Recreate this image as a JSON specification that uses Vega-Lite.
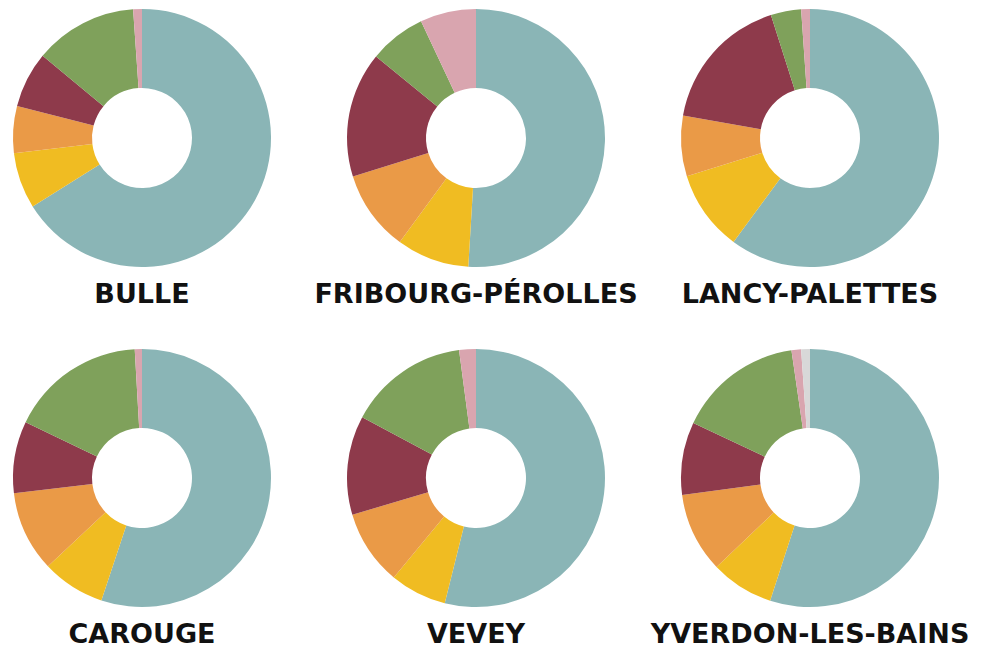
{
  "$schema": "https://vega.github.io/schema/vega-lite/v6.json",
  "padding": {"left": 12, "top": 8, "right": 0, "bottom": 0},
  "background": "white",
  "bounds": "flush",
  "data": {"values": [
    {"site": "BULLE", "cat": "Catégorie 1", "idx": 1, "share": 66.1},
    {"site": "BULLE", "cat": "Catégorie 2", "idx": 2, "share": 7.0},
    {"site": "BULLE", "cat": "Catégorie 3", "idx": 3, "share": 5.9},
    {"site": "BULLE", "cat": "Catégorie 4", "idx": 4, "share": 7.0},
    {"site": "BULLE", "cat": "Catégorie 5", "idx": 5, "share": 12.9},
    {"site": "BULLE", "cat": "Catégorie 6", "idx": 6, "share": 1.1},
    {"site": "FRIBOURG-PÉROLLES", "cat": "Catégorie 1", "idx": 1, "share": 50.9},
    {"site": "FRIBOURG-PÉROLLES", "cat": "Catégorie 2", "idx": 2, "share": 9.1},
    {"site": "FRIBOURG-PÉROLLES", "cat": "Catégorie 3", "idx": 3, "share": 10.1},
    {"site": "FRIBOURG-PÉROLLES", "cat": "Catégorie 4", "idx": 4, "share": 15.7},
    {"site": "FRIBOURG-PÉROLLES", "cat": "Catégorie 5", "idx": 5, "share": 7.1},
    {"site": "FRIBOURG-PÉROLLES", "cat": "Catégorie 6", "idx": 6, "share": 7.0},
    {"site": "LANCY-PALETTES", "cat": "Catégorie 1", "idx": 1, "share": 60.1},
    {"site": "LANCY-PALETTES", "cat": "Catégorie 2", "idx": 2, "share": 10.1},
    {"site": "LANCY-PALETTES", "cat": "Catégorie 3", "idx": 3, "share": 7.6},
    {"site": "LANCY-PALETTES", "cat": "Catégorie 4", "idx": 4, "share": 17.3},
    {"site": "LANCY-PALETTES", "cat": "Catégorie 5", "idx": 5, "share": 3.8},
    {"site": "LANCY-PALETTES", "cat": "Catégorie 6", "idx": 6, "share": 1.1},
    {"site": "CAROUGE", "cat": "Catégorie 1", "idx": 1, "share": 55.1},
    {"site": "CAROUGE", "cat": "Catégorie 2", "idx": 2, "share": 7.9},
    {"site": "CAROUGE", "cat": "Catégorie 3", "idx": 3, "share": 10.1},
    {"site": "CAROUGE", "cat": "Catégorie 4", "idx": 4, "share": 9.0},
    {"site": "CAROUGE", "cat": "Catégorie 5", "idx": 5, "share": 17.0},
    {"site": "CAROUGE", "cat": "Catégorie 6", "idx": 6, "share": 0.9},
    {"site": "VEVEY", "cat": "Catégorie 1", "idx": 1, "share": 53.9},
    {"site": "VEVEY", "cat": "Catégorie 2", "idx": 2, "share": 7.1},
    {"site": "VEVEY", "cat": "Catégorie 3", "idx": 3, "share": 9.4},
    {"site": "VEVEY", "cat": "Catégorie 4", "idx": 4, "share": 12.4},
    {"site": "VEVEY", "cat": "Catégorie 5", "idx": 5, "share": 15.1},
    {"site": "VEVEY", "cat": "Catégorie 6", "idx": 6, "share": 2.1},
    {"site": "YVERDON-LES-BAINS", "cat": "Catégorie 1", "idx": 1, "share": 55.0},
    {"site": "YVERDON-LES-BAINS", "cat": "Catégorie 2", "idx": 2, "share": 7.9},
    {"site": "YVERDON-LES-BAINS", "cat": "Catégorie 3", "idx": 3, "share": 10.0},
    {"site": "YVERDON-LES-BAINS", "cat": "Catégorie 4", "idx": 4, "share": 9.1},
    {"site": "YVERDON-LES-BAINS", "cat": "Catégorie 5", "idx": 5, "share": 15.7},
    {"site": "YVERDON-LES-BAINS", "cat": "Catégorie 6", "idx": 6, "share": 1.2},
    {"site": "YVERDON-LES-BAINS", "cat": "Catégorie 7", "idx": 7, "share": 1.1}
  ]},
  "facet": {
    "field": "site",
    "type": "nominal",
    "sort": ["BULLE", "FRIBOURG-PÉROLLES", "LANCY-PALETTES", "CAROUGE", "VEVEY", "YVERDON-LES-BAINS"],
    "header": {
      "title": null,
      "labelOrient": "bottom",
      "labelFont": "DejaVu Sans",
      "labelFontWeight": "bold",
      "labelFontSize": 27,
      "labelColor": "#111111",
      "labelPadding": 14
    }
  },
  "columns": 3,
  "spacing": {"row": 80, "column": 74},
  "spec": {
    "width": 260,
    "height": 260,
    "mark": {"type": "arc", "outerRadius": 129, "innerRadius": 50},
    "encoding": {
      "theta": {"field": "share", "type": "quantitative", "stack": true},
      "order": {"field": "idx", "type": "quantitative"},
      "color": {
        "field": "cat",
        "type": "nominal",
        "scale": {
          "domain": ["Catégorie 1", "Catégorie 2", "Catégorie 3", "Catégorie 4", "Catégorie 5", "Catégorie 6", "Catégorie 7"],
          "range": ["#8AB5B6", "#F0BC22", "#EA9A47", "#8E3A4B", "#7FA15B", "#D9A5AF", "#D8D8D8"]
        },
        "legend": null
      }
    }
  },
  "config": {"view": {"stroke": null}}
}
